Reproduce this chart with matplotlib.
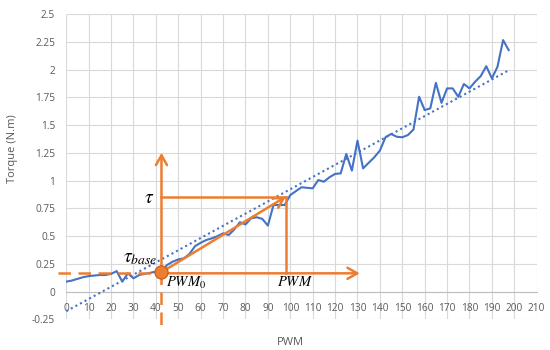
import matplotlib

matplotlib.use("Agg")
import matplotlib.pyplot as plt
import numpy as np

pwm = [
    0, 2.5, 5, 7.5, 10, 12.5, 15, 17.5, 20, 22.5,
    25, 27.5, 30, 32.5, 35, 37.5, 40, 42.5, 45, 47.5,
    50, 52.5, 55, 57.5, 60, 62.5, 65, 67.5, 70, 72.5,
    75, 77.5, 80, 82.5, 85, 87.5, 90, 92.5, 95, 97.5,
    100, 102.5, 105, 107.5, 110, 112.5, 115, 117.5, 120, 122.5,
    125, 127.5, 130, 132.5, 135, 137.5, 140, 142.5, 145, 147.5,
    150, 152.5, 155, 157.5, 160, 162.5, 165, 167.5, 170, 172.5,
    175, 177.5, 180, 182.5, 185, 187.5, 190, 192.5, 195, 197.5,
]
torque = [
    0.09, 0.10, 0.115, 0.13, 0.14, 0.145, 0.15, 0.15, 0.16, 0.185,
    0.09, 0.165, 0.12, 0.15, 0.16, 0.17, 0.18, 0.18, 0.24, 0.27,
    0.29, 0.30, 0.34, 0.41, 0.44, 0.465, 0.48, 0.50, 0.525, 0.51,
    0.56, 0.625, 0.605, 0.66, 0.67, 0.655, 0.595, 0.78, 0.78, 0.78,
    0.87, 0.905, 0.94, 0.935, 0.93, 1.005, 0.99, 1.03, 1.06, 1.065,
    1.24, 1.09, 1.36, 1.11, 1.16, 1.21, 1.27, 1.39, 1.42, 1.395,
    1.39, 1.41, 1.46, 1.755, 1.635, 1.65, 1.88, 1.70, 1.83, 1.83,
    1.755, 1.87, 1.83, 1.89, 1.94, 2.03, 1.92, 2.025, 2.265, 2.175,
]

# annotation geometry (data units)
pwm0 = 42.5
tau_base = 0.175
pwm_base_level = 0.165
pwm_op = 98
tau_op = 0.855
pwm_arrow_end = 131
tau_arrow_end = 1.25

x_ticks = list(range(0, 211, 10))
y_ticks = [-0.25, 0, 0.25, 0.5, 0.75, 1, 1.25, 1.5, 1.75, 2, 2.25, 2.5]
y_tick_labels = ["-0.25", "0", "0.25", "0.5", "0.75", "1", "1.25", "1.5",
                 "1.75", "2", "2.25", "2.5"]

BLUE = "#4472C4"
ORANGE = "#ED7D31"
GRID = "#d9d9d9"
TEXT = "#595959"

plt.rcParams["font.family"] = ["Open Sans", "DejaVu Sans"]
plt.rcParams["mathtext.fontset"] = "stix"

fig = plt.figure(figsize=(5.5, 3.5), dpi=100)
ax = fig.add_axes([0.1205, 0.0874, 0.8553, 0.8726])

ax.set_xlim(0, 210)
ax.set_ylim(-0.25, 2.5)
ax.set_xticks(x_ticks)
ax.set_yticks(y_ticks)
ax.set_yticklabels(y_tick_labels)
ax.grid(True, color=GRID, linewidth=0.8)
ax.set_axisbelow(True)
for side in ("top", "right", "left"):
    ax.spines[side].set_visible(False)
ax.spines["bottom"].set_position(("data", 0))
ax.spines["bottom"].set_color("#bfbfbf")
ax.spines["bottom"].set_linewidth(0.8)
ax.tick_params(axis="both", length=0, labelsize=7.3, labelcolor=TEXT)
ax.tick_params(axis="x", pad=8)
ax.tick_params(axis="y", pad=8)

# data + linear trendline
ax.plot(pwm, torque, color=BLUE, linewidth=1.5, zorder=3)
coef = np.polyfit(pwm, torque, 1)
trend_x = np.array([pwm[0], pwm[-1]])
ax.plot(trend_x, np.polyval(coef, trend_x), color=BLUE, linewidth=1.5,
        linestyle=(0, (1, 1.5)), zorder=3)

# orange construction lines
line_kw = dict(color=ORANGE, linewidth=1.8, zorder=4, clip_on=False)
ax.plot([-3.7, pwm0], [pwm_base_level, pwm_base_level], linestyle=(0, (5, 3)), **line_kw)
ax.plot([pwm0, pwm0], [tau_base, -0.31], linestyle=(0, (5, 3)), **line_kw)
ax.plot([pwm0, pwm_op], [tau_op, tau_op], **line_kw)
ax.plot([pwm_op, pwm_op], [tau_op, pwm_base_level], **line_kw)

arrow_kw = dict(arrowstyle="->,head_length=0.7,head_width=0.4",
                color=ORANGE, linewidth=1.8, shrinkA=0, shrinkB=0)
ax.annotate("", xy=(pwm0, tau_arrow_end), xytext=(pwm0, tau_base),
            arrowprops=arrow_kw, zorder=5)
ax.annotate("", xy=(pwm_arrow_end, pwm_base_level), xytext=(pwm0, pwm_base_level),
            arrowprops=arrow_kw, zorder=5)
ax.annotate("", xy=(pwm_op, tau_op), xytext=(pwm0, tau_base),
            arrowprops=arrow_kw, zorder=5)
ax.plot([pwm0], [tau_base], marker="o", markersize=9.5, color=ORANGE,
        markeredgecolor="#c55a11", markeredgewidth=0.8, zorder=6, clip_on=False)

ax.text(37, 0.845, r"$\tau$", fontsize=14, ha="center", va="center", color="black")
ax.text(33, 0.30, r"$\tau_{base}$", fontsize=14, ha="center", va="center", color="black")
ax.text(44.5, 0.075, r"$PWM_0$", fontsize=10.5, ha="left", va="center", color="black")
ax.text(102, 0.08, r"$PWM$", fontsize=10.5, ha="center", va="center", color="black")

ax.set_xlabel("PWM", fontsize=8, color=TEXT)
ax.xaxis.set_label_coords(0.4756, -0.075)
ax.xaxis.label.set_va("center")
ax.set_ylabel("Torque (N.m)", fontsize=8, color=TEXT)
ax.yaxis.set_label_coords(-0.1144, 0.56)
ax.yaxis.label.set_va("center")

fig.savefig("out.png", dpi=100)
